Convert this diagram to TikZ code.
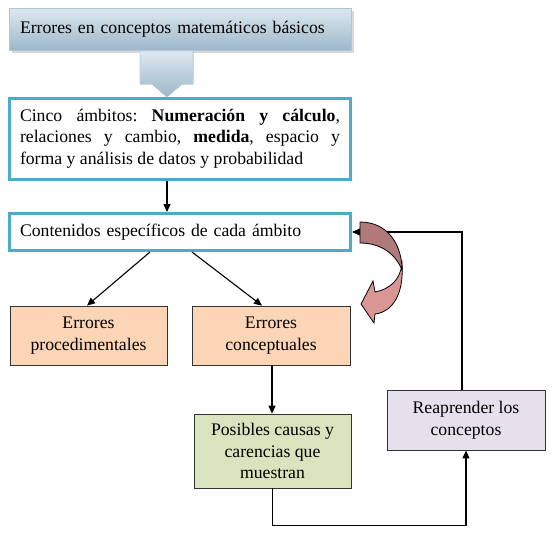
\documentclass[tikz,border=0pt]{standalone}
\usepackage{fontspec}
\setmainfont{Liberation Serif}
\usetikzlibrary{arrows.meta,shadows}
\definecolor{tealb}{HTML}{4BACC6}
\definecolor{peach}{HTML}{FBD5B5}
\definecolor{sage}{HTML}{D7E4BD}
\definecolor{lav}{HTML}{E6E0EC}
\definecolor{darkrose}{HTML}{B07A7A}
\definecolor{lightrose}{HTML}{DA9694}
\definecolor{steelA}{HTML}{DDE8EF}
\definecolor{steelB}{HTML}{9DB8C9}
\frenchspacing
\begin{document}
\begin{tikzpicture}[x=1pt,y=-1pt,
  every node/.style={font=\fontsize{17.7}{21.5}\selectfont},
  topbox/.style={rectangle,draw=steelB!80!white,line width=0.8pt,top color=steelA,bottom color=steelB,
     drop shadow={shadow xshift=3pt,shadow yshift=-3pt,fill=gray!60},
     minimum width=342pt,minimum height=42pt,text width=320pt,inner xsep=11pt,align=left},
  tealbox/.style={rectangle,draw=tealb,line width=3pt,fill=white,minimum width=341pt,text width=320pt,inner xsep=10.5pt},
  colbox/.style={rectangle,draw=black!80,line width=0.8pt,align=center,inner sep=2pt},
  arr/.style={-{Triangle[length=8pt,width=7pt]},line width=1.1pt},
  ln/.style={line width=1.1pt}]
\useasboundingbox (0,0) rectangle (553,539);

\node[topbox] (t) at (180,29) {Errores en conceptos matemáticos básicos};

% block arrow
\fill[top color=steelA,bottom color=steelB,draw=steelB!70!white,line width=0.6pt]
  (140,51) -- (193,51) -- (193,84) -- (182,84) -- (167,97) -- (152,84) -- (140,84) -- cycle;

\node[tealbox,minimum height=81pt,align=justify] (b2) at (180,138.5)
  {\frenchspacing Cinco ámbitos: \textbf{Numeración y cálculo},\linebreak relaciones y cambio, \textbf{medida}, espacio y\linebreak forma y análisis de datos y probabilidad};

\node[tealbox,minimum height=37pt,align=left] (b3) at (180,232) {Contenidos específicos de cada ámbito};

\node[colbox,fill=peach,minimum width=157pt,minimum height=59pt] (pr) at (88.5,335.5) {Errores\\procedimentales};
\node[colbox,fill=peach,minimum width=158pt,minimum height=59pt] (co) at (271,335.5) {Errores\\conceptuales};
\node[colbox,fill=sage,minimum width=157pt,minimum height=74pt] (po) at (272.5,451) {Posibles causas y\\carencias que\\muestran};
\node[colbox,fill=lav,minimum width=158pt,minimum height=60pt] (re) at (466,420) {Reaprender los\\conceptos};

\draw[arr] ([xshift=-13pt]b2.south) -- ([xshift=-13pt]b3.north);
\draw[arr] ([xshift=-30pt]b3.south) -- ([xshift=-1.5pt]pr.north);
\draw[arr] ([xshift=12pt]b3.south) -- ([xshift=-9pt]co.north);
\draw[arr] ([xshift=1pt]co.south) -- ([xshift=-0.5pt]po.north);
\draw[arr] (po.south) -- ++(0,37) coordinate (c1) -| (re.south);
\draw[arr] ([xshift=-4pt]re.north) |- (b3.east);

% curved block arrow
\filldraw[fill=lightrose,draw=black,line width=0.8pt]
  (402,264) .. controls (404,295) and (392,312) .. (375,314) -- (374,323) -- (361,304)
  -- (373,281) -- (375,292) .. controls (390,289) and (400,280) .. (402,264) -- cycle;
\filldraw[fill=darkrose,draw=black,line width=0.8pt]
  (360,222) .. controls (388,222) and (402,245) .. (402,270)
  .. controls (396,255) and (382,243) .. (360,243) -- cycle;
\end{tikzpicture}
\end{document}
